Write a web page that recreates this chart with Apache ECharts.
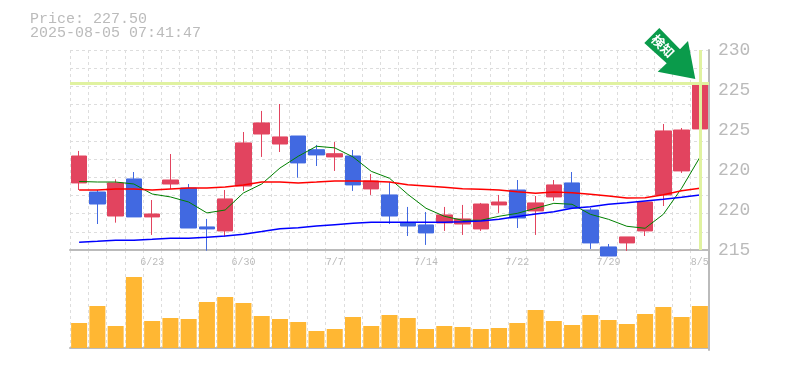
<!DOCTYPE html>
<html>
<head>
<meta charset="utf-8">
<script src="https://cdn.jsdelivr.net/npm/echarts@6/dist/echarts.min.js"></script>
<style>
html, body { margin: 0; padding: 0; background: #fff; }
#chart { width: 785px; height: 370px; }
</style>
</head>
<body>
<div id="chart"></div>
<script>
const dates = ['6/17','6/18','6/19','6/20','6/23','6/24','6/25','6/26','6/27','6/30','7/1','7/2','7/3','7/4','7/7','7/8','7/9','7/10','7/11','7/14','7/15','7/16','7/17','7/18','7/22','7/23','7/24','7/25','7/28','7/29','7/30','7/31','8/1','8/4','8/5']
const dateTicks = ['6/23','6/30','7/7','7/14','7/22','7/29','8/5']
const priceTicks = [215, 218, 221, 224, 227, 230]
const lastPrice = 227.5

// open, close, low, high
const candles = [
    [220.03, 222.05, 219.5, 222.43],
    [219.35, 218.45, 216.95, 219.5],
    [217.55, 220.03, 217.05, 220.3],
    [220.33, 217.48, 217.48, 220.85],
    [217.48, 217.7, 216.13, 218.75],
    [219.95, 220.25, 219.58, 222.2],
    [219.65, 216.65, 216.65, 219.95],
    [216.73, 216.58, 214.95, 217.33],
    [216.43, 218.83, 216.0, 219.5],
    [219.8, 223.03, 219.43, 223.85],
    [223.7, 224.53, 221.98, 225.43],
    [222.95, 223.48, 222.35, 225.95],
    [223.55, 221.53, 220.42, 223.55],
    [222.52, 222.13, 221.3, 222.88],
    [221.98, 222.22, 220.93, 223.1],
    [222.05, 219.88, 219.43, 222.5],
    [219.58, 220.18, 219.13, 220.7],
    [219.13, 217.55, 216.95, 220.1],
    [217.03, 216.8, 216.05, 218.23],
    [216.88, 216.28, 215.38, 217.85],
    [217.03, 217.63, 216.43, 218.23],
    [216.95, 217.33, 216.13, 218.38],
    [216.58, 218.45, 216.43, 218.53],
    [218.38, 218.6, 217.78, 219.13],
    [219.5, 217.4, 216.65, 220.25],
    [217.93, 218.53, 216.13, 219.05],
    [218.98, 219.88, 218.68, 220.25],
    [220.03, 218.15, 218.15, 220.85],
    [218.0, 215.53, 215.08, 218.15],
    [215.23, 214.55, 214.55, 215.45],
    [215.53, 215.98, 214.93, 215.98],
    [216.43, 218.6, 216.05, 218.6],
    [219.13, 223.93, 218.3, 224.45],
    [220.93, 224.0, 220.78, 224.15],
    [224.08, 227.5, 222.58, 227.5]
]

const maShort = [220.14, 220.1, 220.1, 219.95, 219.2, 218.98, 218.6, 217.78, 218.0, 219.28, 219.95, 221.15, 222.03, 222.78, 222.66, 221.98, 220.9, 220.38, 219.18, 218.13, 217.53, 217.23, 217.23, 217.53, 217.75, 218.13, 218.5, 218.43, 217.68, 217.3, 216.78, 216.63, 217.68, 219.63, 221.95]
const maMid = [219.5, 219.5, 219.58, 219.58, 219.5, 219.58, 219.65, 219.65, 219.73, 219.88, 220.1, 220.1, 220.03, 220.1, 220.18, 220.18, 220.15, 220.1, 219.9, 219.8, 219.7, 219.6, 219.55, 219.5, 219.37, 219.25, 219.35, 219.3, 219.18, 219.05, 218.9, 218.92, 219.15, 219.45, 219.63]
const maLong = [215.58, 215.65, 215.73, 215.73, 215.8, 215.88, 215.88, 215.95, 216.05, 216.18, 216.38, 216.6, 216.67, 216.8, 216.9, 217.0, 217.08, 217.08, 217.08, 217.08, 217.08, 217.12, 217.18, 217.3, 217.51, 217.7, 217.87, 218.13, 218.25, 218.43, 218.55, 218.68, 218.8, 218.95, 219.13]

const volumes = [25, 42, 22, 71, 27, 30, 29, 46, 51, 45, 32, 29, 26, 17, 19, 31, 22, 33, 30, 19, 22, 21, 19, 20, 25, 38, 27, 23, 33, 28, 24, 34, 41, 31, 42]

const titleLines = ['Price: 227.50', '2025-08-05 07:41:47']
const badgeText = '検知'

const monoFont = '"Liberation Mono", monospace'
const axisColor = '#bbbbbb'
const gridLine = { show: true, lineStyle: { color: '#dddddd', type: [3, 3], width: 1 } }

const maSeries = (name, data, color, width) => ({
    name,
    type: 'line',
    data,
    xAxisIndex: 0,
    yAxisIndex: 0,
    symbol: 'none',
    z: 4,
    lineStyle: { color, width },
})

const chart = echarts.init(document.getElementById('chart'))
chart.setOption({
    animation: false,
    backgroundColor: '#fff',
    grid: [
        { left: 70, top: 50, width: 639, height: 200 },
        { left: 70, top: 250, width: 639, height: 100 },
    ],
    xAxis: [
        {
            type: 'category',
            gridIndex: 0,
            data: dates,
            axisLine: { lineStyle: { color: axisColor, width: 2 } },
            axisTick: { show: false },
            splitLine: { ...gridLine, interval: 0 },
            axisLabel: {
                interval: (i, v) => dateTicks.includes(v),
                color: axisColor,
                fontFamily: monoFont,
                fontSize: 10,
                margin: 7,
            },
        },
        {
            type: 'category',
            gridIndex: 1,
            data: dates,
            axisLine: { lineStyle: { color: axisColor, width: 2 } },
            axisTick: { show: false },
            splitLine: { ...gridLine, interval: 0 },
            axisLabel: { show: false },
        },
    ],
    yAxis: [
        {
            type: 'value',
            gridIndex: 0,
            position: 'right',
            min: 215,
            max: 230,
            scale: true,
            axisLine: { show: true, lineStyle: { color: axisColor, width: 2 } },
            axisTick: { show: false },
            splitLine: { show: false },
            axisLabel: {
                customValues: priceTicks,
                formatter: (v) => String(Math.round(v / 5) * 5),
                color: axisColor,
                fontFamily: monoFont,
                fontSize: 18,
                margin: 9,
                padding: [6, 0, 0, 0],
            },
        },
        {
            // only there for the 11 dashed rows
            type: 'value',
            gridIndex: 0,
            min: 0,
            max: 11,
            interval: 1,
            axisLine: { show: false },
            axisTick: { show: false },
            axisLabel: { show: false },
            splitLine: gridLine,
        },
        {
            type: 'value',
            gridIndex: 1,
            position: 'right',
            min: -2,
            max: 98,
            axisLine: { show: true, lineStyle: { color: axisColor, width: 2 } },
            axisTick: { show: false },
            axisLabel: { show: false },
            splitLine: { show: false },
        },
    ],
    series: [
        {
            type: 'line',
            data: [],
            xAxisIndex: 0,
            yAxisIndex: 0,
            z: 1,
            markLine: {
                silent: true,
                symbol: 'none',
                label: { show: false },
                lineStyle: { color: '#e0f2a0', width: 3, type: 'solid' },
                data: [{ yAxis: lastPrice }, { xAxis: dates[dates.length - 1] }],
            },
        },
        {
            type: 'candlestick',
            data: candles,
            xAxisIndex: 0,
            yAxisIndex: 0,
            barWidth: 16,
            clip: false,
            z: 3,
            itemStyle: {
                color: '#e2445f',
                color0: '#4169e1',
                borderColor: '#e2445f',
                borderColor0: '#4169e1',
                borderWidth: 1,
            },
        },
        maSeries('short', maShort, '#008000', 1),
        maSeries('mid', maMid, '#ff0000', 1.5),
        maSeries('long', maLong, '#0000ff', 1.5),
        {
            type: 'bar',
            data: volumes,
            xAxisIndex: 1,
            yAxisIndex: 2,
            barWidth: 16,
            itemStyle: { color: '#ffb733' },
        },
    ],
    graphic: [
        {
            type: 'text',
            left: 30,
            top: 12,
            style: { text: titleLines[0], fill: axisColor, font: '15px ' + monoFont },
        },
        {
            type: 'text',
            left: 30,
            top: 26,
            style: { text: titleLines[1], fill: axisColor, font: '15px ' + monoFont },
        },
        {
            // arrow badge pointing at the last candle
            type: 'polygon',
            z: 10,
            shape: {
                points: [[659.3, 28], [644.3, 43], [666.7, 63.3], [657.7, 71.7], [695.3, 79], [688, 41], [680, 49.3]],
            },
            style: { fill: '#0a9b4b' },
        },
        {
            type: 'text',
            z: 11,
            x: 663,
            y: 46,
            rotation: -Math.PI / 4,
            style: {
                text: badgeText,
                fill: '#fff',
                font: 'bold 13px "Noto Sans CJK JP"',
                align: 'center',
                verticalAlign: 'middle',
            },
        },
    ],
})
</script>
</body>
</html>
